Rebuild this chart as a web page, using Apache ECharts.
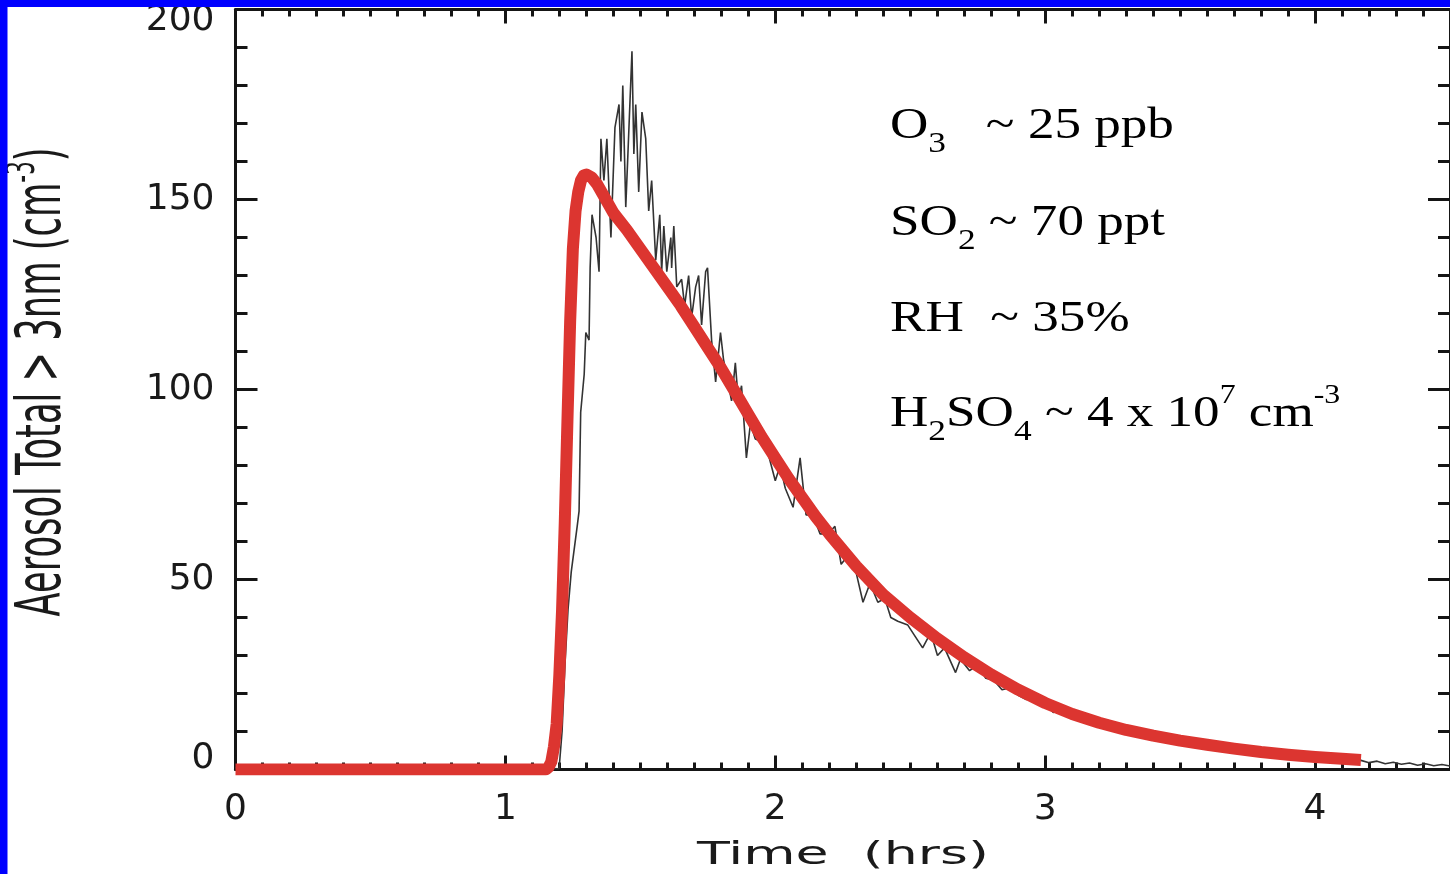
<!DOCTYPE html>
<html>
<head>
<meta charset="utf-8">
<style>
html,body{margin:0;padding:0;background:#fff;}
#chart{width:1450px;height:874px;}
</style>
<script src="https://cdn.jsdelivr.net/npm/echarts@6/dist/echarts.min.js"></script>
</head>
<body>
<div id="chart"></div>
<script>
// ---- tick labels ----
const xTickLabels = [0, 1, 2, 3, 4];
const yTickLabels = [0, 50, 100, 150, 200];

// ---- measured aerosol total (time hrs, count cm^-3) ----
const measured = [
  [0,0.4],[0.03,1.2],[0.06,0.2],[0.10,0.5],[0.20,0.1],[0.30,0.4],[0.40,0.2],[0.50,0.3],[0.60,0.1],
  [0.70,0.4],[0.80,0.2],[0.90,0.3],[1.00,0.1],[1.10,0.3],[1.199,0.2],
  [1.210,10],[1.221,28],[1.232,42],[1.244,52],[1.255,58],[1.266,64],[1.273,68],[1.279,94],
  [1.292,104],[1.298,115],[1.310,113],[1.314,132],[1.321,146],[1.336,140],[1.347,131],[1.354,166],
  [1.365,155],[1.376,166],[1.391,140],[1.406,169],[1.421,175],[1.428,160],[1.435,180],[1.446,148],
  [1.454,162],[1.469,189],[1.476,162],[1.483,175],[1.494,152],[1.506,173],[1.520,166],[1.531,147],
  [1.542,155],[1.557,134],[1.572,146],[1.579,131],[1.587,143],[1.598,131],[1.613,140],[1.616,132],
  [1.624,143],[1.635,127],[1.653,129],[1.664,122],[1.679,130],[1.690,119],[1.705,127],[1.716,130],
  [1.727,117],[1.742,131],[1.749,132],[1.764,113],[1.779,102],[1.797,115],[1.808,108],[1.819,104],
  [1.838,97],[1.852,107],[1.863,97],[1.875,101],[1.893,82],[1.908,91],[1.926,87],[1.963,86],
  [2.000,76],[2.018,80],[2.037,74],[2.066,69],[2.092,82],[2.114,67],[2.140,67],[2.166,62],
  [2.196,62],[2.221,64],[2.244,54],[2.277,57],[2.299,52],[2.325,44],[2.351,49],[2.380,44],
  [2.406,45],[2.428,40],[2.454,39],[2.491,38],[2.546,32],[2.576,36],[2.601,30],[2.627,32],
  [2.668,25.5],[2.686,29],[2.72,26],[2.75,27.5],[2.78,24],[2.81,23.5],[2.84,21],[2.87,21.5],
  [2.90,19.5],[2.93,18.4],[2.96,18.8],[3.00,17.6],[3.03,15],[3.06,15.8],[3.09,15],[3.12,14.5],
  [3.15,13],[3.18,12.6],[3.21,12.8],[3.24,11.5],[3.27,11.2],[3.30,10.3],[3.33,10.0],[3.36,9.3],
  [3.39,9.5],[3.42,8.7],[3.45,8.4],[3.48,8.0],[3.51,7.6],[3.54,7.6],[3.57,7.0],[3.60,6.6],
  [3.63,6.8],[3.66,6.0],[3.69,6.2],[3.72,5.6],[3.75,5.2],[3.78,5.3],[3.81,4.8],[3.84,4.3],
  [3.87,4.6],[3.90,4.0],[3.93,3.8],[3.96,4.1],[3.99,3.4],[4.02,3.2],[4.05,3.5],[4.08,2.9],
  [4.11,2.7],[4.14,3.0],[4.17,2.4],[4.20,1.8],[4.23,2.2],[4.26,1.5],[4.29,1.9],[4.32,1.4],
  [4.35,1.7],[4.38,1.1],[4.41,1.5],[4.44,1.0],[4.47,1.3],[4.50,0.9]
];

// ---- model curve ----
const model = [
  [0,0],[1.15,0],[1.16,0.6],[1.17,2],[1.18,6],[1.19,12],[1.20,25],[1.21,42],[1.22,65],[1.23,92],[1.24,118],
  [1.25,137],[1.26,147],[1.27,152],[1.28,155],[1.29,156.3],[1.30,156.6],[1.32,155.8],[1.34,154],[1.36,151.5],[1.40,146.5],
  [1.45,142],[1.50,137],[1.55,132],[1.60,127],[1.65,122],[1.70,116.5],[1.75,111],[1.80,105.5],[1.85,99.5],[1.90,93.5],
  [1.95,87.5],[2.00,82],[2.05,76.5],[2.10,71.5],[2.15,66.5],[2.20,62],
  [2.30,53.5],[2.40,46],[2.50,40],[2.60,34.5],[2.70,29.5],[2.80,25],[2.90,21],[3.00,17.5],
  [3.10,14.6],[3.20,12.3],[3.30,10.4],[3.40,8.9],[3.50,7.6],[3.60,6.5],[3.70,5.5],[3.80,4.6],
  [3.90,3.9],[4.00,3.3],[4.10,2.8],[4.17,2.5]
];

// ---- texts ----
const xTitle = 'Time  (hrs)';
const yTitle = '{a|Aerosol Total > 3nm (cm}{s|-3}{a|)}';
const notes = [
  '{n|O}{s|3}{n|   ~ 25 ppb}',
  '{n|SO}{s|2}{n| ~ 70 ppt}',
  '{n|RH  ~ 35%}',
  '{n|H}{s|2}{n|SO}{s|4}{n| ~ 4 x 10}{p|7}{n| cm}{p|-3}'
];
const noteBaselines = [140, 237, 333, 428];

const AX = '#151515';
const labelFont = 'DejaVu Sans';

function xAxisDef(pos, showLabel) {
  return {
    type: 'value', min: 0, max: 4.5, interval: 1, position: pos,
    axisLine: { show: true, onZero: false, lineStyle: { color: AX, width: 3 } },
    axisTick: { show: true, inside: true, length: 14, lineStyle: { color: AX, width: 3 } },
    minorTick: { show: true, splitNumber: 10, length: 7, lineStyle: { color: AX, width: 3 } },
    splitLine: { show: false },
    axisLabel: {
      show: showLabel, margin: 22, fontSize: 36, fontFamily: labelFont, color: '#1a1a1a',
      showMaxLabel: false,
      formatter: v => (xTickLabels.indexOf(v) >= 0 ? String(v) : '')
    }
  };
}
function yAxisDef(pos, showLabel) {
  return {
    type: 'value', min: 0, max: 200, interval: 50, position: pos,
    axisLine: { show: true, onZero: false, lineStyle: { color: AX, width: 3 } },
    axisTick: { show: true, inside: true, length: 22, lineStyle: { color: AX, width: 3 } },
    minorTick: { show: true, splitNumber: 5, length: 12, lineStyle: { color: AX, width: 3 } },
    splitLine: { show: false },
    axisLabel: {
      show: showLabel, margin: 21, fontSize: 36, lineHeight: 22, fontFamily: labelFont, color: '#1a1a1a',
      verticalAlignMaxLabel: 'top', verticalAlignMinLabel: 'bottom',
      formatter: v => (yTickLabels.indexOf(v) >= 0 ? String(v) : '')
    }
  };
}

const serifRich = {
  n: { fontSize: 45, fontFamily: 'Liberation Serif', fill: '#000', lineHeight: 110, verticalAlign: 'middle' },
  s: { fontSize: 30, fontFamily: 'Liberation Serif', fill: '#000', lineHeight: 110, verticalAlign: 'middle', padding: [35, 0, 0, 0] },
  p: { fontSize: 27, fontFamily: 'Liberation Serif', fill: '#000', lineHeight: 110, verticalAlign: 'middle', padding: [0, 0, 38, 0] }
};

const graphics = [
  { type: 'rect', left: 0, top: 0, z: 100, shape: { width: 1450, height: 7 }, style: { fill: '#0000ff' } },
  { type: 'rect', left: 0, top: 0, z: 100, shape: { width: 7.5, height: 874 }, style: { fill: '#0000ff' } },
  {
    type: 'text', x: 843, y: 856, scaleX: 1.68, z: 50,
    style: { text: xTitle, fontSize: 32, fontFamily: labelFont, fill: '#1a1a1a', align: 'center', verticalAlign: 'middle' }
  },
  {
    type: 'text', x: 40, y: 382, rotation: Math.PI / 2, scaleX: 0.98, scaleY: 1.75, z: 50,
    style: {
      text: yTitle, align: 'center', verticalAlign: 'middle',
      rich: {
        a: { fontSize: 36, fontFamily: labelFont, fill: '#1a1a1a', lineHeight: 40, verticalAlign: 'bottom' },
        s: { fontSize: 22, fontFamily: labelFont, fill: '#1a1a1a', lineHeight: 14, verticalAlign: 'top' }
      }
    }
  }
];
notes.forEach((t, i) => {
  graphics.push({
    type: 'text', x: 890, y: noteBaselines[i] - 68.5, scaleX: 1.18, z: 50,
    style: { text: t, rich: serifRich, align: 'left', verticalAlign: 'top' }
  });
});

const chart = echarts.init(document.getElementById('chart'), null, { renderer: 'canvas' });
chart.setOption({
  animation: false,
  backgroundColor: '#ffffff',
  grid: { left: 235.5, top: 9.5, width: 1219.5, height: 760, containLabel: false },
  xAxis: [xAxisDef('bottom', true), xAxisDef('top', false)],
  yAxis: [yAxisDef('left', true), yAxisDef('right', false)],
  series: [
    {
      name: 'Measured', type: 'line', data: measured, xAxisIndex: 0, yAxisIndex: 0,
      symbol: 'none', smooth: false, z: 2,
      lineStyle: { color: '#333333', width: 1.6 }
    },
    {
      name: 'Model', type: 'line', data: model, xAxisIndex: 0, yAxisIndex: 0,
      symbol: 'none', smooth: false, z: 3,
      lineStyle: { color: '#dc3530', width: 12, cap: 'butt', join: 'round' }
    }
  ],
  graphic: graphics
});
</script>
</body>
</html>
